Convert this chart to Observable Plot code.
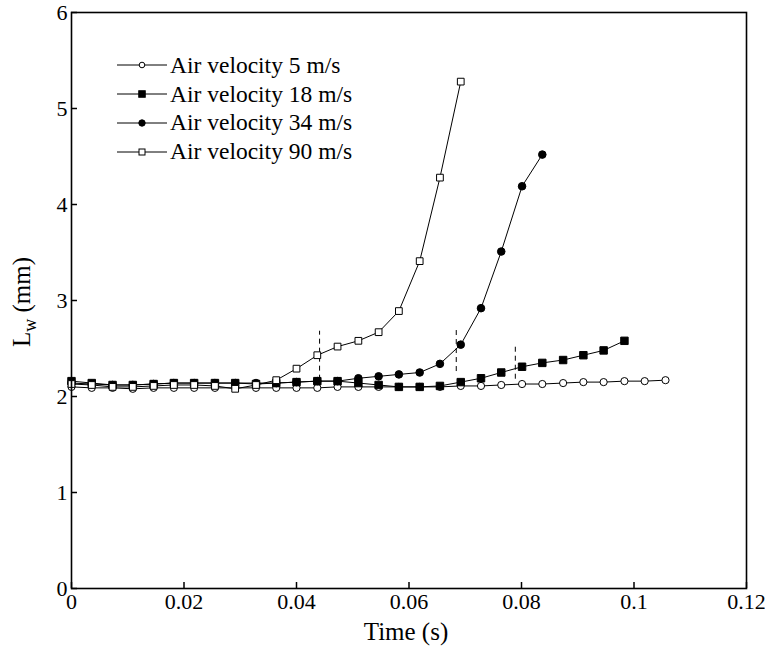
<!DOCTYPE html>
<html><head><meta charset="utf-8">
<script src="https://cdn.jsdelivr.net/npm/d3@7"></script>
<script src="https://cdn.jsdelivr.net/npm/@observablehq/plot@0.6"></script>
<style>
body{margin:0;background:#fff;}
#wrap{position:relative;width:765px;height:647px;font-family:"Liberation Serif","Times New Roman",Times,"DejaVu Serif",serif;color:#000;}
#legend{position:absolute;left:117px;top:51px;font-size:23.5px;}
.row{display:flex;align-items:center;height:28.8px;white-space:nowrap;}
.row svg{margin-right:3px;}
</style></head><body>
<div id="wrap"><div id="chart"></div><div id="legend"></div></div>
<script>
// Shared time stamps (s)
const time = [0, 0.0036, 0.0073, 0.0109, 0.0146, 0.0182, 0.0218, 0.0255, 0.0291, 0.0328,
  0.0364, 0.0400, 0.0437, 0.0473, 0.0510, 0.0546, 0.0582, 0.0619, 0.0655, 0.0692,
  0.0728, 0.0764, 0.0801, 0.0837, 0.0874, 0.0910, 0.0946, 0.0983, 0.1019, 0.1056];

// L_w (mm) per air velocity
const v5 = [2.10, 2.09, 2.09, 2.08, 2.09, 2.09, 2.09, 2.09, 2.09, 2.09,
  2.09, 2.09, 2.09, 2.10, 2.10, 2.10, 2.10, 2.10, 2.10, 2.11,
  2.11, 2.12, 2.13, 2.13, 2.14, 2.15, 2.15, 2.16, 2.16, 2.17];
const v18 = [2.16, 2.14, 2.12, 2.12, 2.13, 2.14, 2.14, 2.14, 2.14, 2.13,
  2.14, 2.15, 2.16, 2.16, 2.14, 2.12, 2.10, 2.10, 2.11, 2.15,
  2.19, 2.25, 2.31, 2.35, 2.38, 2.43, 2.48, 2.58];
const v34 = [2.14, 2.13, 2.12, 2.12, 2.13, 2.14, 2.14, 2.14, 2.14, 2.14,
  2.14, 2.15, 2.16, 2.16, 2.19, 2.21, 2.23, 2.25, 2.34, 2.54,
  2.92, 3.51, 4.19, 4.52];
const v90 = [2.13, 2.12, 2.10, 2.10, 2.11, 2.12, 2.12, 2.11, 2.08, 2.12,
  2.17, 2.29, 2.43, 2.52, 2.58, 2.67, 2.89, 3.41, 4.28, 5.28];

const seriesNames = ["Air velocity 5 m/s", "Air velocity 18 m/s", "Air velocity 34 m/s", "Air velocity 90 m/s"];

// Dashed marker lines
const dashT = [0.0441, 0.0684, 0.0789];
const dashLow = [2.17, 2.26, 2.18];
const dashHigh = [2.68, 2.71, 2.53];

const xTicks = [0, 0.02, 0.04, 0.06, 0.08, 0.1, 0.12];
const yTicks = [0, 1, 2, 3, 4, 5, 6];

const FONT = "'Liberation Serif', 'Times New Roman', Times, 'DejaVu Serif', serif";

const styles = [
  {symbol: "circle", fill: "white", r: 3.6},
  {symbol: "square", fill: "black", r: 4.2},
  {symbol: "circle", fill: "black", r: 3.8},
  {symbol: "square", fill: "white", r: 3.8}
];

const allValues = [v5, v18, v34, v90];
const rows = [];
allValues.forEach((vals, k) => vals.forEach((v, i) => rows.push({series: seriesNames[k], k, t: time[i], v})));
const dashes = dashT.map((t, i) => ({t, lo: dashLow[i], hi: dashHigh[i]}));

const dotMarks = styles.map((s, k) => Plot.dot(rows.filter(d => d.k === k), {
  x: "t", y: "v", symbol: () => s.symbol, r: s.r, fill: s.fill, stroke: "black", strokeWidth: 1
}));

const chart = Plot.plot({
  width: 765, height: 647,
  marginLeft: 71, marginRight: 19, marginTop: 12, marginBottom: 59,
  style: {fontFamily: FONT, fontSize: "22px", background: "white", color: "black", overflow: "visible"},
  x: {domain: [0, 0.12], label: null},
  y: {domain: [0, 6], label: null},
  symbol: {type: "identity"},
  marks: [
    Plot.line(rows, {x: "t", y: "v", z: "series", stroke: "black", strokeWidth: 1}),
    Plot.ruleX(dashes, {x: "t", y1: "lo", y2: "hi", stroke: "black", strokeWidth: 1, strokeDasharray: "5,4"}),
    ...dotMarks,
    Plot.tickX(xTicks, {x: d => d, insetTop: 570, stroke: "black", strokeWidth: 1.5}),
    Plot.tickY(yTicks, {y: d => d, insetRight: 669, stroke: "black", strokeWidth: 1.5}),
    Plot.axisX({ticks: xTicks, tickSize: 0, tickPadding: 5, tickFormat: d => String(d), fontSize: 22, fontFamily: FONT, label: null}),
    Plot.axisY({ticks: yTicks, tickSize: 0, tickPadding: 4, tickFormat: d => String(d), fontSize: 22, fontFamily: FONT, label: null}),
    Plot.frame({stroke: "black", strokeWidth: 1.6})
  ]
});
document.getElementById("chart").appendChild(chart);

const svg = d3.select(chart);
// x label
svg.append("text").attr("x", 406).attr("y", 640).attr("text-anchor", "middle")
  .attr("font-family", FONT).attr("font-size", 25).attr("fill", "black").text("Time (s)");
// y label with subscript
const yl = svg.append("text").attr("transform", "translate(30,302) rotate(-90)")
  .attr("text-anchor", "middle").attr("font-family", FONT).attr("font-size", 25).attr("fill", "black");
yl.append("tspan").text("L");
yl.append("tspan").attr("font-size", 18).attr("dy", 6).text("w");
yl.append("tspan").attr("dy", -6).text(" (mm)");

// legend
const leg = d3.select("#legend");
seriesNames.forEach((name, k) => {
  const row = leg.append("div").attr("class", "row");
  const s = row.append("svg").attr("width", 50).attr("height", 20);
  s.append("line").attr("x1", 0).attr("x2", 50).attr("y1", 10).attr("y2", 10).attr("stroke", "black").attr("stroke-width", 1);
  const st = styles[k];
  if (st.symbol === "circle") {
    s.append("circle").attr("cx", 25).attr("cy", 10).attr("r", st.fill === "black" ? 3.2 : 2.8)
      .attr("fill", st.fill).attr("stroke", "black");
  } else {
    const a = st.fill === "black" ? 6.5 : 6;
    s.append("rect").attr("x", 25 - a / 2).attr("y", 10 - a / 2).attr("width", a).attr("height", a)
      .attr("fill", st.fill).attr("stroke", "black");
  }
  row.append("span").text(name);
});
</script>
</body></html>
